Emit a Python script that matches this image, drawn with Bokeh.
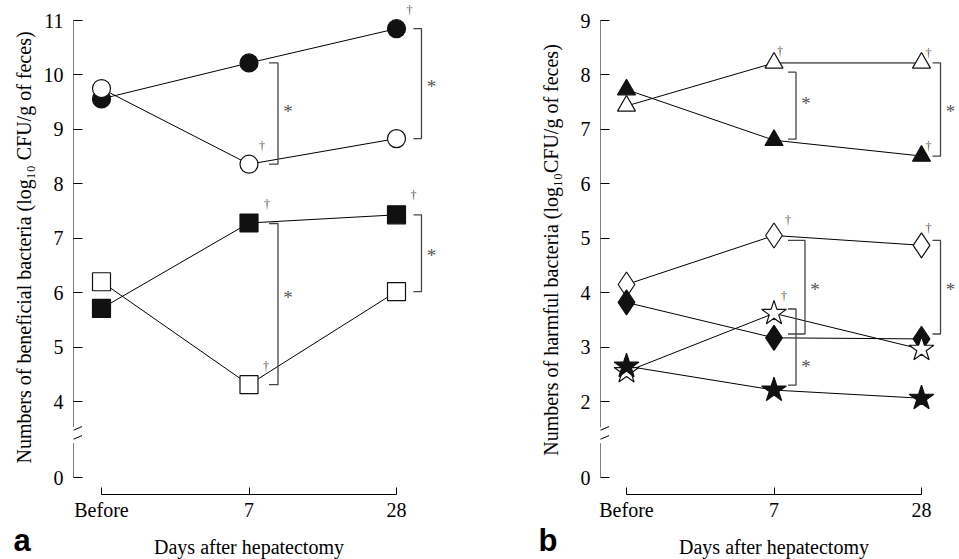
from bokeh.plotting import figure
from bokeh.layouts import row, column
from bokeh.models import Range1d, FixedTicker, Arrow
from bokeh.core.properties import value
from bokeh.embed import file_html
from bokeh.resources import INLINE

# ---------------- data ----------------
day_labels = ["Before", "7", "28"]
day_pos = [0, 1, 2]
x_title = "Days after hepatectomy"

# panel a: beneficial bacteria
a_filled_circle = [9.56, 10.22, 10.85]
a_open_circle = [9.75, 8.36, 8.83]
a_filled_square = [5.71, 7.28, 7.43]
a_open_square = [6.20, 4.31, 6.02]
a_ticks = [4, 5, 6, 7, 8, 9, 10, 11]

# panel b: harmful bacteria
b_open_triangle = [7.43, 8.22, 8.22]
b_filled_triangle = [7.73, 6.80, 6.51]
b_open_diamond = [4.15, 5.05, 4.87]
b_filled_diamond = [3.82, 3.17, 3.15]
b_open_star = [2.55, 3.62, 2.96]
b_filled_star = [2.65, 2.21, 2.06]
b_ticks = [2, 3, 4, 5, 6, 7, 8, 9]

# significance brackets: (day index, y top, y bottom, star y)
a_brackets = [(1, 10.22, 8.36, 9.33), (2, 10.85, 8.83, 9.79),
              (1, 7.27, 4.31, 5.91), (2, 7.43, 6.02, 6.68)]
b_brackets = [(1, 8.05, 6.82, 7.47), (2, 8.22, 6.51, 7.33),
              (1, 4.96, 3.24, 4.06), (2, 4.96, 3.24, 4.06),
              (1, 3.70, 2.30, 2.64)]
# daggers: (series name, day index)
a_daggers = [("fc", 2), ("oc", 1), ("fs", 1), ("fs", 2), ("os", 1)]
b_daggers = [("ot", 1), ("ot", 2), ("ft", 2), ("od", 1), ("od", 2), ("ost", 1)]

# ---------------- styling / geometry ----------------
PX = 147.5   # px per day step
PY = 54.43   # px per log unit
FONT = "Liberation Serif"
GRAY = "#444444"
BLACK = "#111111"
MAIN_H = 523
FRAME_H = 494
PAGE_H = 559


def make_panel(width, frame_left, top_tick, ticks, ylabel, label_standoff,
               bracket_geo, brackets, dagger_geo, series_map, dagger_list, series_specs,
               x_left_px, x_right_px):
    y_end = top_tick + 20 / PY
    y_start = top_tick - (FRAME_H - 20) / PY
    zero_pos = top_tick - (477 - 20) / PY
    x_start = -x_left_px / PX
    x_end = 2 + x_right_px / PX

    p = figure(width=width, height=MAIN_H, x_range=Range1d(x_start, x_end),
               y_range=Range1d(y_start, y_end), output_backend="svg",
               toolbar_location=None, title=None,
               min_border_left=frame_left, min_border_right=0,
               min_border_top=0, min_border_bottom=MAIN_H - FRAME_H)
    p.outline_line_color = None
    p.xgrid.visible = False
    p.ygrid.visible = False
    p.background_fill_color = "white"
    p.border_fill_color = "white"

    # y axis
    yt = [zero_pos] + ticks
    p.yaxis.ticker = FixedTicker(ticks=yt)
    ov = {zero_pos: "0"}
    for t in ticks:
        ov[t] = str(t)
    p.yaxis.major_label_overrides = ov
    p.yaxis.axis_line_color = None
    p.yaxis.major_tick_in = 9
    p.yaxis.major_tick_out = 0
    p.yaxis.minor_tick_line_color = None
    p.yaxis.major_tick_line_color = "black"
    p.yaxis.major_label_standoff = 10
    p.yaxis.major_label_text_font = FONT
    p.yaxis.major_label_text_font_size = "20px"
    p.yaxis.major_label_text_color = "black"
    p.yaxis.axis_label = ylabel
    p.yaxis.axis_label_text_font = FONT
    p.yaxis.axis_label_text_font_size = "20px"
    p.yaxis.axis_label_text_font_style = "normal"
    p.yaxis.axis_label_text_color = "black"
    p.yaxis.axis_label_standoff = label_standoff

    # x axis
    p.xaxis.ticker = FixedTicker(ticks=day_pos)
    p.xaxis.major_label_overrides = {d: l for d, l in zip(day_pos, day_labels)}
    p.xaxis.bounds = (day_pos[0], day_pos[-1])
    p.xaxis.axis_line_color = "black"
    p.xaxis.major_tick_in = 7
    p.xaxis.major_tick_out = 0
    p.xaxis.minor_tick_line_color = None
    p.xaxis.major_tick_line_color = "black"
    p.xaxis.major_label_standoff = 4
    p.xaxis.major_label_text_font = FONT
    p.xaxis.major_label_text_font_size = "20px"
    p.xaxis.major_label_text_color = "black"

    # y axis line with break
    gap_top = zero_pos + 50.3 / PY
    gap_bot = zero_pos + 34.3 / PY
    for (y0, y1) in [(zero_pos, gap_bot), (gap_top, ticks[-1])]:
        p.add_layout(Arrow(end=None, x_start=x_start, y_start=y0, x_end=x_start, y_end=y1,
                           line_color="black", line_width=1))
    for off in (47.3, 38.3):
        yc = zero_pos + off / PY
        p.add_layout(Arrow(end=None, x_start=x_start - 8.5 / PX, y_start=yc - 3.6 / PY,
                           x_end=x_start + 8.5 / PX, y_end=yc + 3.6 / PY,
                           line_color="black", line_width=1))

    # lines
    for name, marker, filled, size in series_specs:
        p.line(day_pos, series_map[name], line_color="black", line_width=1)
    # markers
    for name, marker, filled, size in series_specs:
        p.scatter(day_pos, series_map[name], marker=marker, size=size,
                  fill_color=BLACK if filled else "white",
                  line_color=BLACK, line_width=1.2)

    # brackets
    bxs, bys, sx, sy = [], [], [], []
    for (d, yt_, yb, ys), (off, tl) in zip(brackets, bracket_geo):
        bx = day_pos[d] + off / PX
        bxs.append([bx - tl / PX, bx, bx, bx - tl / PX])
        bys.append([yt_, yt_, yb, yb])
        sx.append(bx + 10 / PX)
        sy.append(ys)
    p.multi_line(bxs, bys, line_color=GRAY, line_width=1.3)
    p.text(sx, sy, text=["*"] * len(sx), text_font=value(FONT), text_font_size="19px",
           text_color="#555555", text_align="center", text_baseline="middle")

    # daggers
    dx_, dy_ = [], []
    for (name, d), (ox, oy) in zip(dagger_list, dagger_geo):
        dx_.append(day_pos[d] + ox / PX)
        dy_.append(series_map[name][d] + oy / PY)
    p.text(dx_, dy_, text=["\u2020"] * len(dx_), text_font=value(FONT), text_font_size="12px",
           text_color="#555555", text_align="center", text_baseline="middle")
    # page x of the middle tick (for the x title)
    mid_page_x = frame_left + (day_pos[1] - x_start) * PX
    return p, mid_page_x


a_map = {"fc": a_filled_circle, "oc": a_open_circle, "fs": a_filled_square, "os": a_open_square}
a_specs = [("fc", "circle", True, 18), ("oc", "circle", False, 18),
           ("fs", "square", True, 18), ("os", "square", False, 18)]
pa, a_mid = make_panel(480, 73, 11, a_ticks,
                       "Numbers of beneficial bacteria (log\u2081\u2080 CFU/g of feces)", 6,
                       [(29, 9), (25, 8), (29, 9), (25, 8)], a_brackets,
                       [(13, 19), (13, 18), (18, 19), (17, 20), (17, 19)], a_map, a_daggers, a_specs,
                       28, 84)

b_map = {"ot": b_open_triangle, "ft": b_filled_triangle, "od": b_open_diamond,
         "fd": b_filled_diamond, "ost": b_open_star, "fst": b_filled_star}
b_specs = [("ot", "triangle", False, 18), ("ft", "triangle", True, 18),
           ("od", "diamond", False, 25), ("fd", "diamond", True, 25),
           ("ost", "star", False, 26), ("fst", "star", True, 26)]
pb, b_mid = make_panel(479, 120, 9, b_ticks,
                       "Numbers of harmful bacteria  (log\u2081\u2080CFU/g of feces)", 16,
                       [(22, 8), (19, 8), (31, 17), (19, 8), (22, 8)], b_brackets,
                       [(6, 12), (7, 10), (7, 10), (14, 15), (7, 17), (10, 17)], b_map, b_daggers, b_specs,
                       26, 38)
b_mid += 480

# bottom strip with x titles and panel letters (coordinates = page pixels)
strip = figure(width=959, height=PAGE_H - MAIN_H, x_range=Range1d(0, 959),
               y_range=Range1d(PAGE_H, MAIN_H), output_backend="svg",
               toolbar_location=None, title=None, min_border=0,
               x_axis_type=None, y_axis_type=None)
strip.outline_line_color = None
strip.xgrid.visible = False
strip.ygrid.visible = False
strip.border_fill_color = "white"
strip.text([a_mid, b_mid], [546, 546], text=[x_title, x_title], text_font=value(FONT),
           text_font_size="20px", text_color="black", text_align="center",
           text_baseline="middle")
strip.text([13, 538], [540, 540], text=["a", "b"], text_font=value("Liberation Sans"),
           text_font_size="31px", text_font_style="bold", text_color="black",
           text_align="left", text_baseline="middle")

layout = column(row(pa, pb), strip)
open("out.html", "w").write(file_html(layout, INLINE))
